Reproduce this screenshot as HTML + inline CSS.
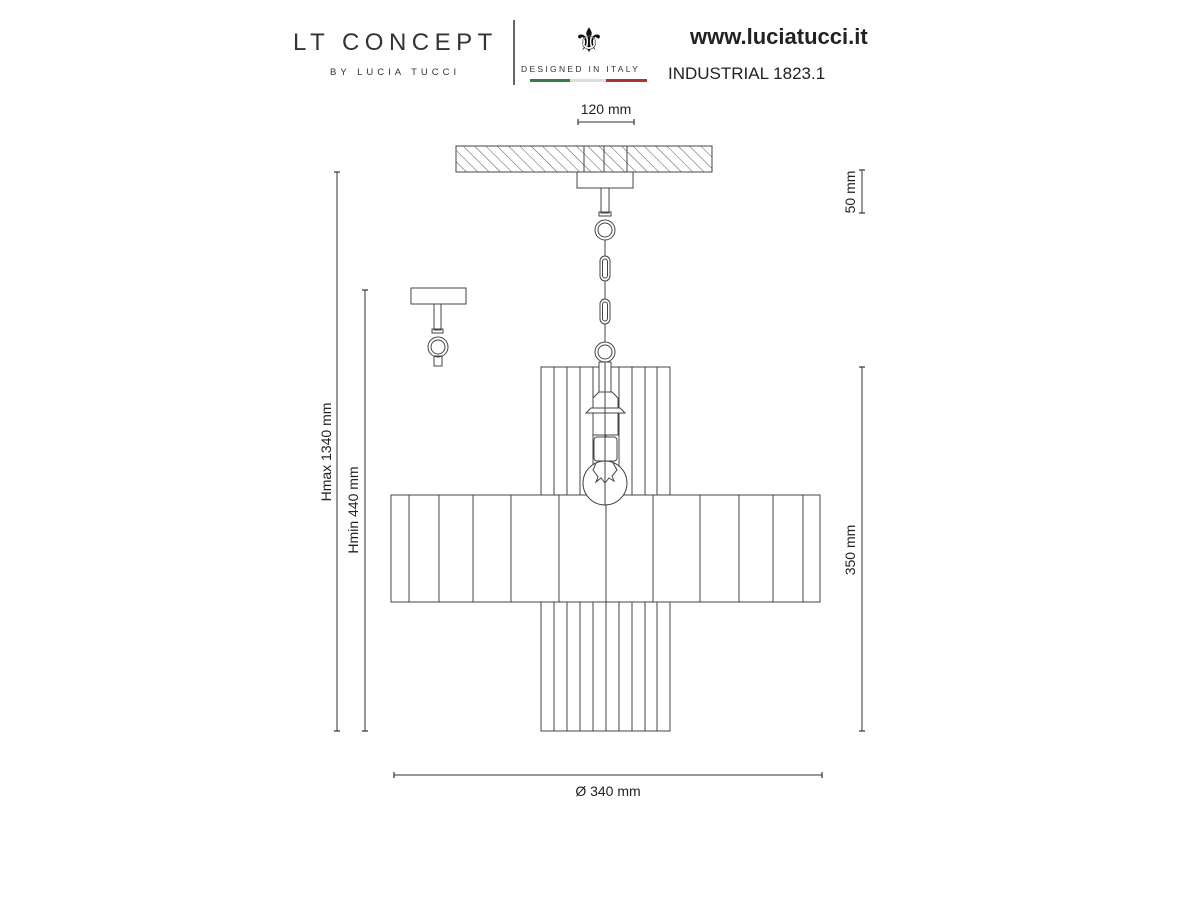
<!DOCTYPE html>
<html><head><meta charset="utf-8"><style>
html,body{margin:0;padding:0;background:#fff;}
svg{display:block;}
text{font-family:"Liberation Sans",sans-serif;}
</style></head><body>
<svg width="1200" height="900" viewBox="0 0 1200 900" xmlns="http://www.w3.org/2000/svg">
<defs>
<pattern id="h" width="8" height="8" patternUnits="userSpaceOnUse" patternTransform="rotate(-45)">
<line x1="0" y1="0" x2="0" y2="8" stroke="#555" stroke-width="1"/>
</pattern>
<marker id="t" markerWidth="6" markerHeight="6" refX="3" refY="3" orient="auto"><path d="M3,0V6" stroke="#333" stroke-width="1.2"/></marker>
</defs>
<rect width="1200" height="900" fill="#fff"/>
<!-- header -->
<text x="293" y="50" font-size="24" letter-spacing="5.5" fill="#333" font-weight="normal">LT CONCEPT</text>
<text x="330" y="75" font-size="9.5" letter-spacing="4" fill="#333">BY LUCIA TUCCI</text>
<line x1="514" y1="20" x2="514" y2="85" stroke="#333" stroke-width="1.5"/>
<text x="589" y="52" font-size="34" text-anchor="middle" fill="#111" font-family="DejaVu Sans">⚜</text>
<text x="521" y="72" font-size="8.5" letter-spacing="2.3" fill="#333">DESIGNED IN ITALY</text>
<rect x="530" y="79" width="40" height="3" fill="#3a7a4a"/>
<rect x="570" y="79" width="36" height="3" fill="#ddd"/>
<rect x="606" y="79" width="41" height="3" fill="#a33"/>
<text x="690" y="44" font-size="22" font-weight="bold" fill="#222">www.luciatucci.it</text>
<text x="668" y="79" font-size="17" fill="#222">INDUSTRIAL 1823.1</text>
<!-- 120 mm -->
<text x="606" y="114" font-size="14" text-anchor="middle" fill="#222">120 mm</text>
<line x1="578" y1="122" x2="634" y2="122" stroke="#333" marker-start="url(#t)" marker-end="url(#t)"/>
<g fill="none" stroke="#444" stroke-width="1">
<!-- ceiling -->
<rect x="456" y="146" width="256" height="26" fill="url(#h)"/>
<line x1="584" y1="146" x2="584" y2="172"/><line x1="604" y1="146" x2="604" y2="172"/><line x1="627" y1="146" x2="627" y2="172"/>
<rect x="577" y="172" width="56" height="16" fill="#fff"/>
<!-- chain -->
<rect x="601" y="188" width="8" height="25"/>
<rect x="599" y="212" width="12" height="4"/>
<circle cx="605" cy="230" r="10"/><circle cx="605" cy="230" r="7"/>
<line x1="605" y1="240" x2="605" y2="256"/>
<rect x="600" y="256" width="10" height="25" rx="5"/><rect x="602.5" y="259" width="5" height="19" rx="2.5"/>
<line x1="605" y1="281" x2="605" y2="299"/>
<rect x="600" y="299" width="10" height="25" rx="5"/><rect x="602.5" y="302" width="5" height="19" rx="2.5"/>
<line x1="605" y1="324" x2="605" y2="342"/>
<circle cx="605" cy="352" r="10"/><circle cx="605" cy="352" r="7"/>
<!-- small fixture -->
<rect x="411" y="288" width="55" height="16"/>
<rect x="434" y="304" width="7" height="26"/>
<rect x="432" y="329" width="11" height="4"/>
<circle cx="438" cy="347" r="10"/><circle cx="438" cy="347" r="7"/>
<rect x="434" y="356" width="8" height="10"/>
<!-- upper cylinder -->
<rect x="541" y="367" width="129" height="128"/>
<path d="M554,367V495M567,367V495M580,367V495M593,367V495M606,367V495M619,367V495M632,367V495M645,367V495M657,367V495"/>
<!-- middle -->
<rect x="391" y="495" width="429" height="107"/>
<path d="M409,495V602M439,495V602M473,495V602M511,495V602M559,495V602M606,495V602M653,495V602M700,495V602M739,495V602M773,495V602M803,495V602"/>
<!-- lower -->
<rect x="541" y="602" width="129" height="129"/>
<path d="M554,602V731M567,602V731M580,602V731M593,602V731M606,602V731M619,602V731M632,602V731M645,602V731M657,602V731"/>
<!-- socket -->
<g fill="#fff">
<rect x="599" y="362" width="12" height="30"/>
<path d="M599,392 L593,398 V408 H618 V398 L612,392Z"/>
<path d="M586,413 L591,408 H620 L625,413Z"/>
<rect x="593" y="413" width="25" height="22"/>
<rect x="594" y="437" width="23" height="24" rx="3"/>
<circle cx="605" cy="483" r="22"/>
</g>
<path d="M596,463 L593,470 L598,477 L596,482 L601,478 L605,483 L609,478 L614,481 L612,476 L617,470 L613,463"/>
<line x1="605" y1="362" x2="605" y2="505"/>
</g>
<!-- dimensions -->
<g stroke="#333" stroke-width="1">
<line x1="337" y1="172" x2="337" y2="731" marker-start="url(#t)" marker-end="url(#t)"/>
<line x1="365" y1="290" x2="365" y2="731" marker-start="url(#t)" marker-end="url(#t)"/>
<line x1="862" y1="170" x2="862" y2="213" marker-start="url(#t)" marker-end="url(#t)"/>
<line x1="862" y1="367" x2="862" y2="731" marker-start="url(#t)" marker-end="url(#t)"/>
<line x1="394" y1="775" x2="822" y2="775" marker-start="url(#t)" marker-end="url(#t)"/>
</g>
<g font-size="14" fill="#222" text-anchor="middle">
<text transform="translate(331,452) rotate(-90)">Hmax 1340 mm</text>
<text transform="translate(358,510) rotate(-90)">Hmin 440 mm</text>
<text transform="translate(855,192) rotate(-90)">50 mm</text>
<text transform="translate(855,550) rotate(-90)">350 mm</text>
<text x="608" y="796">Ø 340 mm</text>
</g>
</svg>
</body></html>
